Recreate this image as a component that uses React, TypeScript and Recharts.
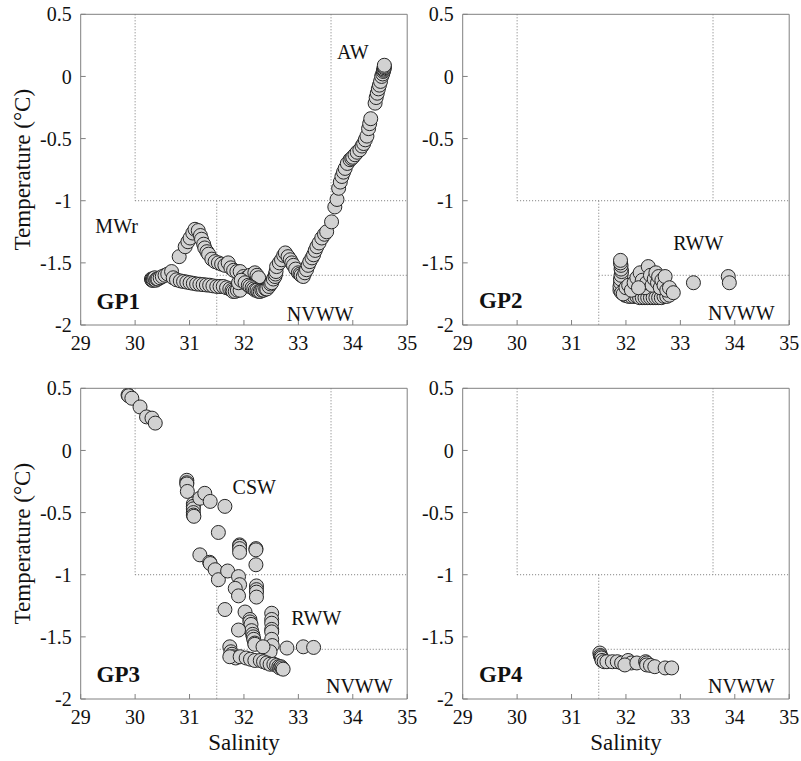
import React from 'react';
import { ScatterChart, Scatter, XAxis, YAxis, ReferenceLine, ReferenceDot } from 'recharts';

const FONT = "'Liberation Serif', 'Times New Roman', serif";

const xTicks = [29, 30, 31, 32, 33, 34, 35];
const yTicks = [0.5, 0, -0.5, -1, -1.5, -2];
const xDomain: [number, number] = [29, 35];
const yDomain: [number, number] = [-2, 0.5];

// water-mass boundaries: [salinity1, temp1, salinity2, temp2]
const boundaries = [
  [30, 0.5, 30, -1],
  [30, -1, 35, -1],
  [33.6, 0.5, 33.6, -1],
  [31.5, -1, 31.5, -2],
  [31.5, -1.6, 35, -1.6],
];

// [salinity, temperature]
const gp1: number[][] = [
  [30.30, -1.63], [30.31, -1.64], [30.32, -1.63], [30.33, -1.64], [30.34, -1.63], [30.36, -1.62], [30.38, -1.64],
  [30.40, -1.63], [30.42, -1.63], [30.46, -1.62], [30.50, -1.61], [30.55, -1.60], [30.60, -1.59], [30.67, -1.57],
  [30.81, -1.45], [30.92, -1.37], [30.97, -1.33], [31.01, -1.30], [31.06, -1.26], [31.10, -1.23], [31.16, -1.24],
  [31.20, -1.28], [31.22, -1.31], [31.26, -1.35], [31.28, -1.38], [31.32, -1.41], [31.35, -1.43], [31.41, -1.47],
  [31.47, -1.49], [31.53, -1.50], [31.59, -1.51], [31.65, -1.52], [31.71, -1.50], [31.76, -1.54], [31.81, -1.56],
  [31.87, -1.57], [31.93, -1.57], [31.99, -1.61], [32.05, -1.62], [32.11, -1.60], [32.20, -1.58], [32.24, -1.60],
  [32.27, -1.62],
  [30.70, -1.62], [30.76, -1.636], [30.83, -1.645], [30.89, -1.65], [30.95, -1.655], [31.01, -1.66], [31.07, -1.665],
  [31.13, -1.67], [31.19, -1.672], [31.25, -1.675], [31.31, -1.678], [31.37, -1.68], [31.43, -1.685], [31.50, -1.69],
  [31.56, -1.69], [31.62, -1.69], [31.68, -1.70], [31.74, -1.71], [31.78, -1.72], [31.80, -1.73], [31.84, -1.73],
  [31.88, -1.72], [31.93, -1.72], [31.90, -1.66], [31.95, -1.64],
  [32.02, -1.66], [32.08, -1.68], [32.11, -1.69], [32.15, -1.70], [32.18, -1.71], [32.21, -1.72], [32.24, -1.72],
  [32.27, -1.73], [32.30, -1.73], [32.33, -1.72], [32.36, -1.72], [32.40, -1.71], [32.42, -1.71], [32.46, -1.69],
  [32.49, -1.67], [32.51, -1.66], [32.54, -1.63], [32.57, -1.61], [32.58, -1.59], [32.59, -1.57], [32.60, -1.53],
  [32.65, -1.50], [32.69, -1.475], [32.73, -1.44], [32.76, -1.42], [32.81, -1.45], [32.85, -1.475], [32.88, -1.50],
  [32.91, -1.52], [32.95, -1.55], [33.00, -1.58], [33.03, -1.59], [33.05, -1.60], [33.09, -1.61], [33.12, -1.58],
  [33.15, -1.555], [33.18, -1.52], [33.21, -1.49], [33.25, -1.46], [33.28, -1.435], [33.31, -1.40], [33.34, -1.37],
  [33.38, -1.34], [33.43, -1.30], [33.48, -1.27], [33.52, -1.25], [33.61, -1.17], [33.67, -1.05], [33.71, -0.99],
  [33.74, -0.90], [33.77, -0.85], [33.80, -0.805], [33.83, -0.77], [33.86, -0.74], [33.90, -0.70], [33.95, -0.67],
  [33.98, -0.66], [34.00, -0.65], [34.04, -0.63], [34.08, -0.61], [34.13, -0.59], [34.17, -0.56], [34.20, -0.54],
  [34.23, -0.51], [34.26, -0.48], [34.29, -0.42], [34.31, -0.38], [34.33, -0.34], [34.41, -0.215], [34.43, -0.17],
  [34.45, -0.135], [34.47, -0.10], [34.49, -0.07], [34.51, -0.04], [34.53, 0.0], [34.55, 0.02], [34.56, 0.04],
  [34.57, 0.05], [34.57, 0.06], [34.58, 0.07], [34.58, 0.08], [34.58, 0.09],
];

const gp2: number[][] = [
  [31.98, -1.76], [32.00, -1.76], [32.05, -1.77], [32.10, -1.77], [32.15, -1.77], [32.20, -1.77], [32.25, -1.78],
  [32.30, -1.78], [32.35, -1.78], [32.40, -1.78], [32.45, -1.78], [32.50, -1.78], [32.55, -1.78], [32.60, -1.78],
  [32.65, -1.78], [32.70, -1.77], [32.75, -1.77], [32.80, -1.76],
  [31.89, -1.72], [31.89, -1.69], [31.90, -1.66], [31.90, -1.63], [31.91, -1.60], [31.92, -1.57], [31.91, -1.55],
  [31.91, -1.52], [31.90, -1.50], [31.90, -1.48], [31.92, -1.74], [31.95, -1.75],
  [32.00, -1.70], [32.05, -1.68], [32.10, -1.72], [32.15, -1.66], [32.20, -1.62], [32.26, -1.58], [32.30, -1.64],
  [32.35, -1.70], [32.38, -1.66], [32.41, -1.53], [32.45, -1.60], [32.48, -1.68], [32.52, -1.63], [32.55, -1.58],
  [32.58, -1.66], [32.60, -1.61], [32.63, -1.70], [32.66, -1.64], [32.70, -1.68], [32.72, -1.61], [32.75, -1.72],
  [32.80, -1.70], [32.23, -1.70], [32.87, -1.74],
  [33.24, -1.66], [33.88, -1.61], [33.90, -1.66],
];

const gp3: number[][] = [
  [29.87, 0.446], [29.88, 0.44], [29.94, 0.42], [30.09, 0.35], [30.21, 0.27], [30.31, 0.26], [30.37, 0.22],
  [30.95, -0.24], [30.95, -0.26], [30.95, -0.27], [30.96, -0.33], [31.07, -0.43], [31.07, -0.45], [31.07, -0.47],
  [31.07, -0.50], [31.07, -0.52], [31.08, -0.53], [31.19, -0.385], [31.28, -0.345], [31.38, -0.41], [31.65, -0.45],
  [31.53, -0.66],
  [31.19, -0.84], [31.37, -0.90], [31.38, -0.91], [31.47, -0.96], [31.53, -1.04], [31.70, -0.97], [31.90, -1.015],
  [31.92, -1.08], [31.84, -1.11], [31.90, -1.17], [31.65, -1.28], [32.02, -1.30],
  [31.92, -0.76], [31.92, -0.77], [31.92, -0.79], [31.92, -0.82], [32.22, -0.79], [32.22, -0.80], [32.22, -0.92],
  [32.23, -1.09], [32.23, -1.12], [32.23, -1.14], [32.23, -1.18],
  [32.11, -1.36], [32.11, -1.38], [32.13, -1.40], [32.14, -1.45], [32.16, -1.48], [32.17, -1.50], [32.18, -1.52],
  [32.20, -1.55], [32.20, -1.56], [31.90, -1.445],
  [32.51, -1.31], [32.51, -1.36], [32.51, -1.39], [32.51, -1.44], [32.51, -1.46], [32.51, -1.52], [32.52, -1.57],
  [32.48, -1.62], [32.35, -1.58],
  [31.74, -1.58], [31.76, -1.62], [31.78, -1.64], [31.80, -1.66], [31.85, -1.67], [31.74, -1.66], [31.93, -1.66],
  [32.04, -1.67], [32.12, -1.68], [32.20, -1.69], [32.30, -1.69], [32.36, -1.70], [32.42, -1.71], [32.48, -1.72],
  [32.55, -1.72], [32.60, -1.73], [32.64, -1.74], [32.66, -1.75], [32.68, -1.74], [32.70, -1.75], [32.72, -1.76],
  [32.79, -1.59], [33.09, -1.58], [33.28, -1.585],
];

const gp4: number[][] = [
  [31.52, -1.63], [31.53, -1.65], [31.54, -1.66], [31.55, -1.67], [31.56, -1.69], [31.60, -1.70], [31.65, -1.70],
  [31.75, -1.70], [31.84, -1.70], [31.92, -1.71], [32.04, -1.69], [32.10, -1.71], [31.98, -1.726], [32.20, -1.71],
  [32.36, -1.70], [32.38, -1.71], [32.38, -1.726], [32.45, -1.73], [32.53, -1.74], [32.72, -1.75], [32.84, -1.75],
];

type Ann = { text: string; s: number; t: number; bold?: boolean };
const gp1Labels: Ann[] = [
  { text: 'AW', s: 34.0, t: 0.14 },
  { text: 'MWr', s: 29.66, t: -1.258 },
  { text: 'GP1', s: 29.69, t: -1.87, bold: true },
  { text: 'NVWW', s: 33.4, t: -1.965 },
];
const gp2Labels: Ann[] = [
  { text: 'RWW', s: 33.33, t: -1.40 },
  { text: 'GP2', s: 29.70, t: -1.865, bold: true },
  { text: 'NVWW', s: 34.12, t: -1.957 },
];
const gp3Labels: Ann[] = [
  { text: 'CSW', s: 32.19, t: -0.353 },
  { text: 'RWW', s: 33.33, t: -1.404 },
  { text: 'GP3', s: 29.69, t: -1.86, bold: true },
  { text: 'NVWW', s: 34.12, t: -1.954 },
];
const gp4Labels: Ann[] = [
  { text: 'GP4', s: 29.70, t: -1.86, bold: true },
  { text: 'NVWW', s: 34.12, t: -1.954 },
];

const W = 418;
const H = 385;
const AXIS = '#808080';

const Dot = (p: any) => (
  <circle cx={p.cx} cy={p.cy} r={7} fill="#d2d2d2" stroke="#262626" strokeWidth={1} />
);

const XLabel = (p: any) => {
  const vb = p.viewBox || {};
  return (
    <text x={vb.x + vb.width / 2} y={vb.y + 51} textAnchor="middle" fontSize={23} fontFamily={FONT} fill="#111">
      Salinity
    </text>
  );
};

const YLabel = (p: any) => {
  const vb = p.viewBox || {};
  const x = vb.x + 2;
  const y = vb.y + vb.height / 2;
  return (
    <text x={x} y={y} transform={`rotate(-90, ${x}, ${y})`} textAnchor="middle" dominantBaseline="central" fontSize={23} fontFamily={FONT} fill="#111">
      Temperature (°C)
    </text>
  );
};

function Panel({ data, labels, left, top, xLabel, yLabel }: { data: number[][]; labels: Ann[]; left: number; top: number; xLabel: boolean; yLabel: boolean }) {
  const rows = data.map(([s, t]) => ({ s, t }));
  return (
    <div style={{ position: 'absolute', left, top, width: W, height: H }}>
      <ScatterChart width={W} height={H} margin={{ top: 9.3, right: 5.8, bottom: 0, left: 20.7 }}>
        <XAxis
          dataKey="s" type="number" domain={xDomain} ticks={xTicks} interval={0} allowDataOverflow
          orientation="bottom" height={60} tickSize={-5} tickMargin={16} stroke={AXIS}
          tick={{ fill: '#111', fontSize: 20, fontFamily: FONT }}
          label={xLabel ? { content: XLabel } : undefined}
        />
        <XAxis
          xAxisId="top" type="number" domain={xDomain} ticks={xTicks} interval={0} allowDataOverflow
          orientation="top" height={5} tickSize={-5} tick={false} stroke={AXIS}
        />
        <YAxis
          dataKey="t" type="number" domain={yDomain} ticks={yTicks} interval={0} allowDataOverflow
          orientation="left" width={60} tickSize={-5} tickMargin={14} stroke={AXIS}
          tick={{ fill: '#111', fontSize: 20, fontFamily: FONT }}
          label={yLabel ? { content: YLabel } : undefined}
        />
        <YAxis
          yAxisId="right" type="number" domain={yDomain} ticks={yTicks} interval={0} allowDataOverflow
          orientation="right" width={5} tickSize={-5} tick={false} stroke={AXIS}
        />
        {boundaries.map(([s1, t1, s2, t2], i) => (
          <ReferenceLine
            key={i}
            segment={[{ x: s1, y: t1 }, { x: s2, y: t2 }]}
            stroke="#777" strokeWidth={1} strokeDasharray="1 2"
          />
        ))}
        <Scatter data={rows} isAnimationActive={false} shape={Dot} />
        {labels.map((a, i) => (
          <ReferenceDot
            key={'l' + i} x={a.s} y={a.t} r={0} ifOverflow="visible"
            shape={(p: any) => (
              <text x={p.cx} y={p.cy} textAnchor="middle" fontSize={a.bold ? 23 : 20} fontWeight={a.bold ? 'bold' : 'normal'} fontFamily={FONT} fill="#111">
                {a.text}
              </text>
            )}
          />
        ))}
      </ScatterChart>
    </div>
  );
}

export default function App() {
  return (
    <div style={{ position: 'absolute', left: 0, top: 0, width: 801, height: 761, background: '#fff', overflow: 'hidden' }}>
      <Panel data={gp1} labels={gp1Labels} left={0} top={0} xLabel={false} yLabel={true} />
      <Panel data={gp2} labels={gp2Labels} left={382} top={0} xLabel={false} yLabel={false} />
      <Panel data={gp3} labels={gp3Labels} left={0} top={374} xLabel={true} yLabel={true} />
      <Panel data={gp4} labels={gp4Labels} left={382} top={374} xLabel={true} yLabel={false} />
    </div>
  );
}
